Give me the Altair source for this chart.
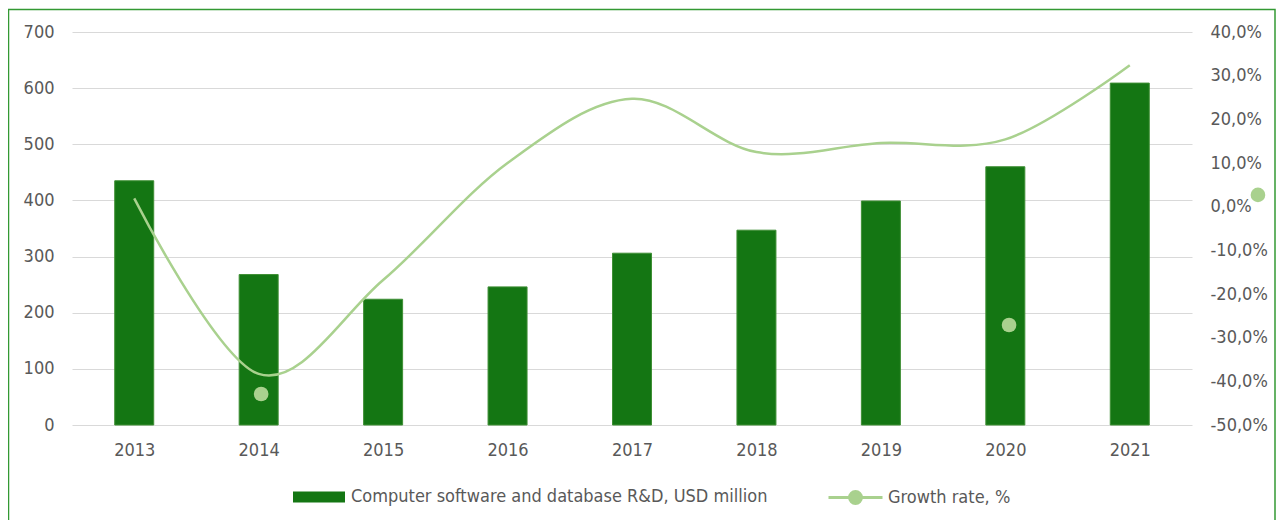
import altair as alt
import pandas as pd

years = [2013, 2014, 2015, 2016, 2017, 2018, 2019, 2020, 2021]
rd_values = [435, 268, 224, 246, 306, 347, 399, 460, 609]
growth_values = [1.9, -38.3, -16.8, 10.0, 24.7, 12.5, 14.6, 15.4, 32.4]
marker_years = [2014.02, 2020.03, 2022.03]
marker_values = [-42.9, -27.1, 2.7]
bar_label = "Computer software and database R&D, USD million"
line_label = "Growth rate, %"
left_ticks = [0, 100, 200, 300, 400, 500, 600, 700]
right_ticks = [-50, -40, -30, -20, -10, 0, 10, 20, 30, 40]

W, H = 1120, 393
FONT = "DejaVu Sans Condensed, DejaVu Sans"
TXT = "#595959"
BAR = "#147613"
LINE = "#a9d18e"

bars_df = pd.DataFrame({"year": years, "value": rd_values, "series": bar_label})
line_df = pd.DataFrame({"year": years, "growth": growth_values, "series": line_label})
mark_df = pd.DataFrame({"year": marker_years, "growth": marker_values})

x_scale = alt.Scale(domain=[2012.5, 2021.5], nice=False, zero=False, padding=0)
x_axis = alt.Axis(values=years, format="d", title=None, grid=False, domain=False,
                  ticks=False, labelPadding=16, labelFontSize=18, labelColor=TXT,
                  labelFont=FONT)

bars = alt.Chart(bars_df).mark_bar(size=39, stroke="#3f8f35", strokeWidth=1).encode(
    x=alt.X("year:Q", scale=x_scale, axis=x_axis),
    y=alt.Y("value:Q", scale=alt.Scale(domain=[0, 700], nice=False),
            axis=alt.Axis(values=left_ticks, title=None, grid=True, gridColor="#d9d9d9",
                          gridWidth=1.2, domain=False, ticks=False, labelPadding=18,
                          labelFontSize=18, labelColor=TXT, labelFont=FONT)),
    fill=alt.Fill("series:N", scale=alt.Scale(domain=[bar_label], range=[BAR]),
                  legend=alt.Legend(title=None, orient="none", legendX=293 - 72,
                                    legendY=439, symbolType="M-1,-0.21H1V0.21H-1Z",
                                    symbolSize=2704, symbolStrokeWidth=0,
                                    labelFontSize=18, labelFont=FONT, labelColor=TXT,
                                    labelOffset=6, padding=0, labelLimit=0)),
)

line = alt.Chart(line_df).mark_line(interpolate="cardinal", strokeWidth=2.5).encode(
    x=alt.X("year:Q", scale=x_scale, axis=x_axis),
    y=alt.Y("growth:Q", scale=alt.Scale(domain=[-50, 40], nice=False),
            axis=alt.Axis(orient="right", values=right_ticks, title=None, grid=False,
                          domain=False, ticks=False, labelPadding=18, labelFontSize=18,
                          labelColor=TXT, labelFont=FONT,
                          labelExpr="(datum.value < 0 ? '-' : '') + replace(format(abs(datum.value), '.1f'), '.', ',') + '%'")),
    stroke=alt.Stroke("series:N", scale=alt.Scale(domain=[line_label], range=[LINE]),
                      legend=alt.Legend(title=None, orient="none", legendX=827 - 72,
                                        legendY=437,
                                        symbolType="M-1,0H1M0.22,0A0.22,0.22,0,1,1,-0.22,0A0.22,0.22,0,1,1,0.22,0Z",
                                        symbolSize=2916, symbolStrokeWidth=3,
                                        symbolFillColor=LINE,
                                        labelFontSize=18, labelFont=FONT, labelColor=TXT,
                                        labelOffset=4, padding=0, labelLimit=0)),
)

points = alt.Chart(mark_df).mark_circle(size=215, color=LINE, opacity=1).encode(
    x=alt.X("year:Q", scale=x_scale, axis=x_axis),
    y=alt.Y("growth:Q", scale=alt.Scale(domain=[-50, 40], nice=False), axis=None),
)

border = alt.Chart(alt.Data(values=[{"a": 1}])).mark_rect(
    fillOpacity=0, stroke="#339933", strokeWidth=1.5
).encode(
    x=alt.value(-63.5), x2=alt.value(W + 83), y=alt.value(-22.5), y2=alt.value(H + 130)
)

chart = alt.layer(bars, line, points, border).resolve_scale(
    y="independent", fill="independent", stroke="independent"
).properties(
    width=W, height=H,
    padding={"left": 64, "top": 24, "right": 85, "bottom": 95},
    autosize=alt.AutoSizeParams(type="none"),
    background="white",
).configure_view(stroke=None)

chart.save("out.html", embed_options={"renderer": "svg", "actions": False})
